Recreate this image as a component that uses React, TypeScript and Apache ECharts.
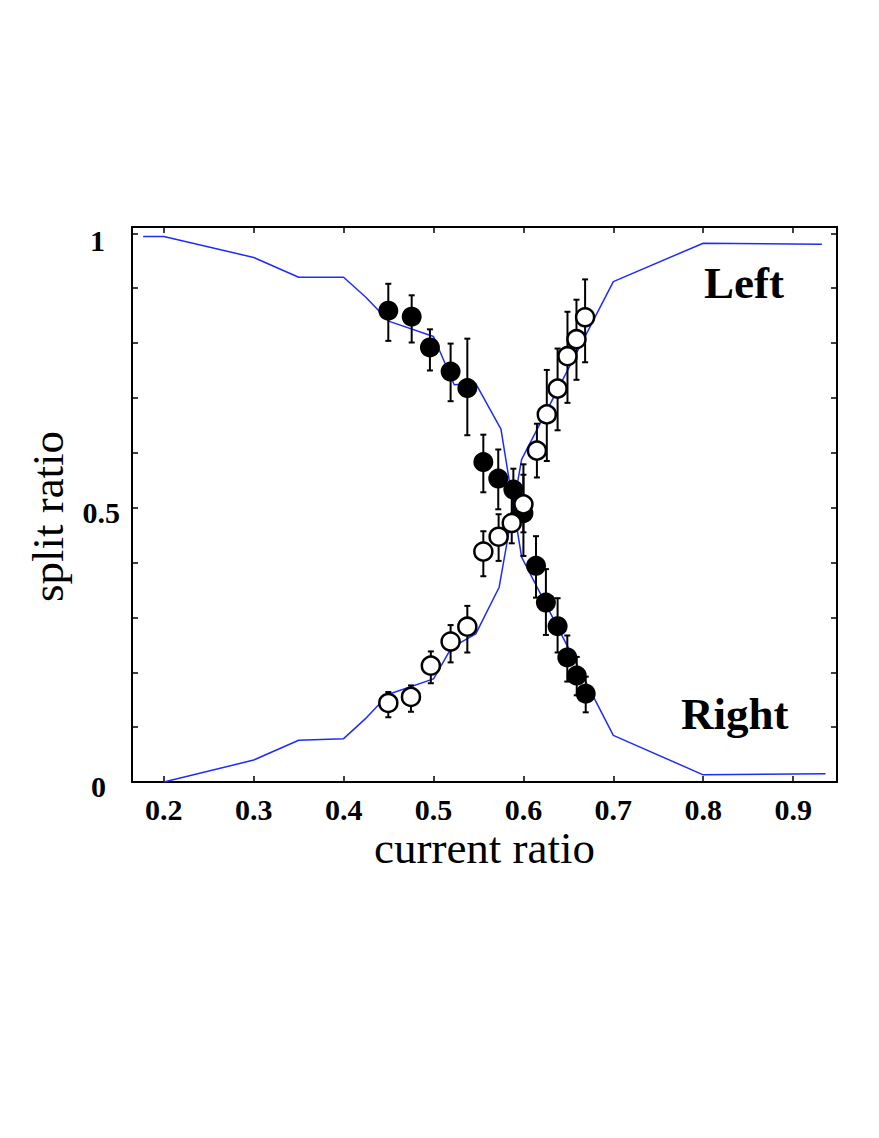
import React, { useEffect, useRef } from "react";
import * as echarts from "echarts";

// ---- axis ticks ----
const xTicks = [0.2, 0.3, 0.4, 0.5, 0.6, 0.7, 0.8, 0.9];
const yTicks = [0, 0.1, 0.2, 0.3, 0.4, 0.5, 0.6, 0.7, 0.8, 0.9, 1];
const yLabelValues = [0, 0.5, 1];

// ---- model curves (blue) ----
const rightCurveX = [0.177, 0.2, 0.3, 0.35, 0.4, 0.425, 0.45, 0.5, 0.523, 0.547, 0.575, 0.598, 0.7, 0.8, 0.936];
const rightCurveY = [0.994, 0.994, 0.956, 0.92, 0.92, 0.883, 0.84, 0.812, 0.724, 0.726, 0.643, 0.41, 0.085, 0.013, 0.015];

const leftCurveX = [0.2, 0.3, 0.35, 0.4, 0.424, 0.45, 0.5, 0.52, 0.547, 0.573, 0.598, 0.7, 0.8, 0.932];
const leftCurveY = [0.0, 0.04, 0.076, 0.079, 0.115, 0.16, 0.188, 0.245, 0.27, 0.355, 0.588, 0.912, 0.982, 0.98];

// ---- measured "Right" (filled circles) ----
const rightX = [0.4497, 0.4757, 0.496, 0.519, 0.5376, 0.5554, 0.572, 0.5888, 0.6, 0.614, 0.625, 0.638, 0.6488, 0.6593, 0.6693];
const rightY = [0.859, 0.848, 0.792, 0.748, 0.718, 0.583, 0.553, 0.533, 0.49, 0.394, 0.327, 0.284, 0.227, 0.194, 0.161];
const rightLo = [0.804, 0.801, 0.75, 0.694, 0.632, 0.528, 0.497, 0.49, 0.412, 0.336, 0.268, 0.236, 0.183, 0.158, 0.127];
const rightHi = [0.908, 0.887, 0.825, 0.799, 0.808, 0.633, 0.606, 0.571, 0.579, 0.448, 0.388, 0.335, 0.267, 0.228, 0.192];

// ---- measured "Left" (open circles) ----
const leftX = [0.4497, 0.4749, 0.497, 0.519, 0.5376, 0.5554, 0.5724, 0.587, 0.6, 0.615, 0.626, 0.638, 0.649, 0.659, 0.6686];
const leftY = [0.144, 0.155, 0.212, 0.256, 0.283, 0.42, 0.447, 0.472, 0.506, 0.604, 0.67, 0.717, 0.776, 0.807, 0.847];
const leftLo = [0.118, 0.128, 0.18, 0.218, 0.236, 0.375, 0.403, 0.435, 0.455, 0.555, 0.585, 0.641, 0.691, 0.733, 0.765];
const leftHi = [0.164, 0.176, 0.238, 0.286, 0.321, 0.457, 0.488, 0.52, 0.56, 0.653, 0.751, 0.79, 0.857, 0.879, 0.916];

const X_MIN = 0.1646;
const X_MAX = 0.9488;
const Y_MIN = 0;
const Y_MAX = 1.0115;

const SERIF = '"Liberation Serif", "Times New Roman", serif';

function zip2(a: number[], b: number[]) {
  return a.map((v, i) => [v, b[i]]);
}
function zip3(a: number[], b: number[], c: number[]) {
  return a.map((v, i) => [v, b[i], c[i]]);
}

function errorBarRender(params: any, api: any) {
  const x = api.value(0);
  const lo = api.value(1);
  const hi = api.value(2);
  const p1 = api.coord([x, lo]);
  const p2 = api.coord([x, hi]);
  const w = 3;
  const style = { stroke: "#000", lineWidth: 2 };
  return {
    type: "group",
    children: [
      { type: "line", shape: { x1: p1[0], y1: p1[1], x2: p2[0], y2: p2[1] }, style },
      { type: "line", shape: { x1: p1[0] - w, y1: p1[1], x2: p1[0] + w, y2: p1[1] }, style },
      { type: "line", shape: { x1: p2[0] - w, y1: p2[1], x2: p2[0] + w, y2: p2[1] }, style },
    ],
  };
}

export default function App() {
  const ref = useRef<HTMLDivElement>(null);

  useEffect(() => {
    if (!ref.current) return;
    const chart = echarts.init(ref.current, null, { renderer: "svg" });

    const axisLineStyle = { color: "#000", width: 2 };
    const tickStyle = { color: "#000", width: 1.5 };
    const labelFont = { fontFamily: SERIF, fontWeight: "bold" as const, fontSize: 30, color: "#000" };

    const option: any = {
      animation: false,
      backgroundColor: "#fff",
      grid: { left: 132, right: 42, top: 227, bottom: 356, outerBoundsMode: "none" },
      xAxis: [
        {
          type: "value",
          position: "bottom",
          min: X_MIN,
          max: X_MAX,
          axisLine: { show: true, onZero: false, lineStyle: axisLineStyle },
          axisTick: { show: true, inside: true, length: 6, customValues: xTicks, lineStyle: tickStyle },
          axisLabel: {
            show: true,
            customValues: xTicks,
            formatter: (v: number) => v.toFixed(1),
            margin: 12,
            ...labelFont,
          },
          splitLine: { show: false },
          name: "current ratio",
          nameLocation: "middle",
          nameGap: 43,
          nameTextStyle: { fontFamily: SERIF, fontSize: 45, color: "#000" },
        },
        {
          type: "value",
          position: "top",
          min: X_MIN,
          max: X_MAX,
          axisLine: { show: true, onZero: false, lineStyle: axisLineStyle },
          axisTick: { show: true, inside: true, length: 6, customValues: xTicks, lineStyle: tickStyle },
          axisLabel: { show: false },
          splitLine: { show: false },
        },
      ],
      yAxis: [
        {
          type: "value",
          position: "left",
          min: Y_MIN,
          max: Y_MAX,
          axisLine: { show: true, onZero: false, lineStyle: axisLineStyle },
          axisTick: { show: true, inside: true, length: 6, customValues: yTicks, lineStyle: tickStyle },
          axisLabel: {
            show: true,
            customValues: yLabelValues,
            margin: 12,
            align: "right",
            formatter: (v: number) => (v === 0.5 ? "{b|0.5}" : v === 1 ? "{a|1}" : "{c|0}"),
            rich: {
              a: { ...labelFont, padding: [14, 15, 0, 0] },
              b: { ...labelFont, padding: [10, 0, 0, 0] },
              c: { ...labelFont, padding: [8, 14, 0, 0] },
            },
            ...labelFont,
          },
          splitLine: { show: false },
          name: "split ratio",
          nameLocation: "middle",
          nameGap: 62,
          nameRotate: 90,
          nameTextStyle: { fontFamily: SERIF, fontSize: 45, color: "#000", padding: [0, 24, 0, 0] },
        },
        {
          type: "value",
          position: "right",
          min: Y_MIN,
          max: Y_MAX,
          axisLine: { show: true, onZero: false, lineStyle: axisLineStyle },
          axisTick: { show: true, inside: true, length: 6, customValues: yTicks, lineStyle: tickStyle },
          axisLabel: { show: false },
          splitLine: { show: false },
        },
      ],
      series: [
        {
          name: "Right model",
          type: "line",
          data: zip2(rightCurveX, rightCurveY),
          showSymbol: false,
          symbol: "none",
          lineStyle: { color: "#1f2cf5", width: 1.5 },
          z: 1,
        },
        {
          name: "Left model",
          type: "line",
          data: zip2(leftCurveX, leftCurveY),
          showSymbol: false,
          symbol: "none",
          lineStyle: { color: "#1f2cf5", width: 1.5 },
          z: 1,
        },
        {
          name: "Right error",
          type: "custom",
          renderItem: errorBarRender,
          encode: { x: 0, y: [1, 2] },
          data: zip3(rightX, rightLo, rightHi),
          z: 2,
        },
        {
          name: "Left error",
          type: "custom",
          renderItem: errorBarRender,
          encode: { x: 0, y: [1, 2] },
          data: zip3(leftX, leftLo, leftHi),
          z: 2,
        },
        {
          name: "Right",
          type: "scatter",
          data: zip2(rightX, rightY),
          symbol: "circle",
          symbolSize: 20,
          itemStyle: { color: "#000", opacity: 1 },
          z: 3,
        },
        {
          name: "Left",
          type: "scatter",
          data: zip2(leftX, leftY),
          symbol: "circle",
          symbolSize: 18,
          itemStyle: { color: "#fff", borderColor: "#000", borderWidth: 2.5, opacity: 1 },
          z: 4,
        },
      ],
      graphic: [
        {
          type: "text",
          x: 704,
          y: 283,
          style: { text: "Left", font: `bold 45px ${SERIF}`, fill: "#000", textAlign: "left", textVerticalAlign: "middle" },
          z: 10,
        },
        {
          type: "text",
          x: 681,
          y: 714,
          style: { text: "Right", font: `bold 45px ${SERIF}`, fill: "#000", textAlign: "left", textVerticalAlign: "middle" },
          z: 10,
        },
      ],
    };

    chart.setOption(option);
    return () => {
      chart.dispose();
    };
  }, []);

  return (
    <div
      ref={ref}
      style={{ position: "absolute", left: 0, top: 0, width: 879, height: 1138, background: "#fff" }}
    />
  );
}
